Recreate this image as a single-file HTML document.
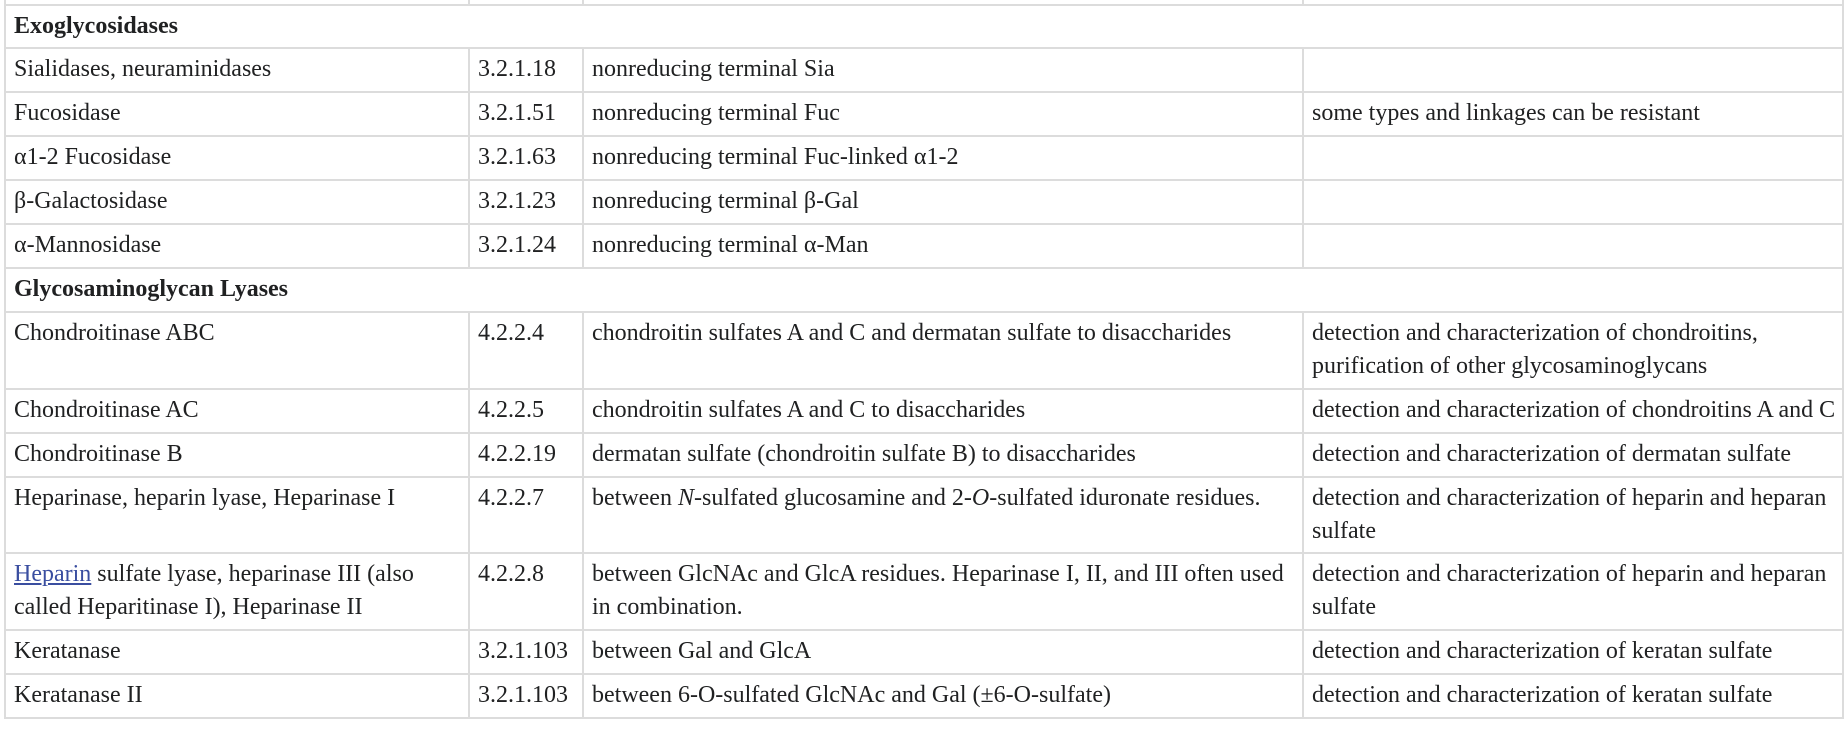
<!DOCTYPE html>
<html><head><meta charset="utf-8"><style>
html,body{margin:0;padding:0;background:#fff;width:1846px;height:730px;overflow:hidden}
table{position:absolute;left:4px;top:-40px;width:1838px;border-collapse:collapse;table-layout:fixed;font-family:"Liberation Serif",serif;font-size:24px;line-height:33px;color:#202122}
td{border:2px solid #dcdcdc;padding:4px 4px 2px 8px;vertical-align:top;box-sizing:border-box;overflow:hidden}
tr.s td{height:44px}
tr.d td{height:76.5px}
b{font-weight:bold}
a{color:#3a4ea0;text-decoration:underline}
</style></head><body>
<table>
<colgroup><col style="width:464px"><col style="width:114px"><col style="width:720px"><col style="width:540px"></colgroup>
<tr><td style="height:44px"></td><td></td><td></td><td></td></tr>
<tr><td colspan="4" style="height:43px"><b>Exoglycosidases</b></td></tr>
<tr class="s"><td>Sialidases, neuraminidases</td><td>3.2.1.18</td><td>nonreducing terminal Sia</td><td></td></tr>
<tr class="s"><td>Fucosidase</td><td>3.2.1.51</td><td>nonreducing terminal Fuc</td><td>some types and linkages can be resistant</td></tr>
<tr class="s"><td>α1-2 Fucosidase</td><td>3.2.1.63</td><td>nonreducing terminal Fuc-linked α1-2</td><td></td></tr>
<tr class="s"><td>β-Galactosidase</td><td>3.2.1.23</td><td>nonreducing terminal β-Gal</td><td></td></tr>
<tr class="s"><td>α-Mannosidase</td><td>3.2.1.24</td><td>nonreducing terminal α-Man</td><td></td></tr>
<tr class="s"><td colspan="4"><b>Glycosaminoglycan Lyases</b></td></tr>
<tr class="d"><td>Chondroitinase ABC</td><td>4.2.2.4</td><td>chondroitin sulfates A and C and dermatan sulfate to disaccharides</td><td>detection and characterization of chondroitins,<br>purification of other glycosaminoglycans</td></tr>
<tr class="s"><td>Chondroitinase AC</td><td>4.2.2.5</td><td>chondroitin sulfates A and C to disaccharides</td><td style="white-space:nowrap">detection and characterization of chondroitins A and C</td></tr>
<tr class="s"><td>Chondroitinase B</td><td>4.2.2.19</td><td>dermatan sulfate (chondroitin sulfate B) to disaccharides</td><td>detection and characterization of dermatan sulfate</td></tr>
<tr class="d"><td>Heparinase, heparin lyase, Heparinase I</td><td>4.2.2.7</td><td>between <i>N</i>-sulfated glucosamine and 2-<i>O</i>-sulfated iduronate residues.</td><td>detection and characterization of heparin and heparan<br>sulfate</td></tr>
<tr class="d"><td><a>Heparin</a> sulfate lyase, heparinase III (also<br>called Heparitinase I), Heparinase II</td><td>4.2.2.8</td><td>between GlcNAc and GlcA residues. Heparinase I, II, and III often used<br>in combination.</td><td>detection and characterization of heparin and heparan<br>sulfate</td></tr>
<tr class="s"><td>Keratanase</td><td>3.2.1.103</td><td>between Gal and GlcA</td><td>detection and characterization of keratan sulfate</td></tr>
<tr class="s"><td>Keratanase II</td><td>3.2.1.103</td><td>between 6-O-sulfated GlcNAc and Gal (±6-O-sulfate)</td><td>detection and characterization of keratan sulfate</td></tr>
</table>
</body></html>
